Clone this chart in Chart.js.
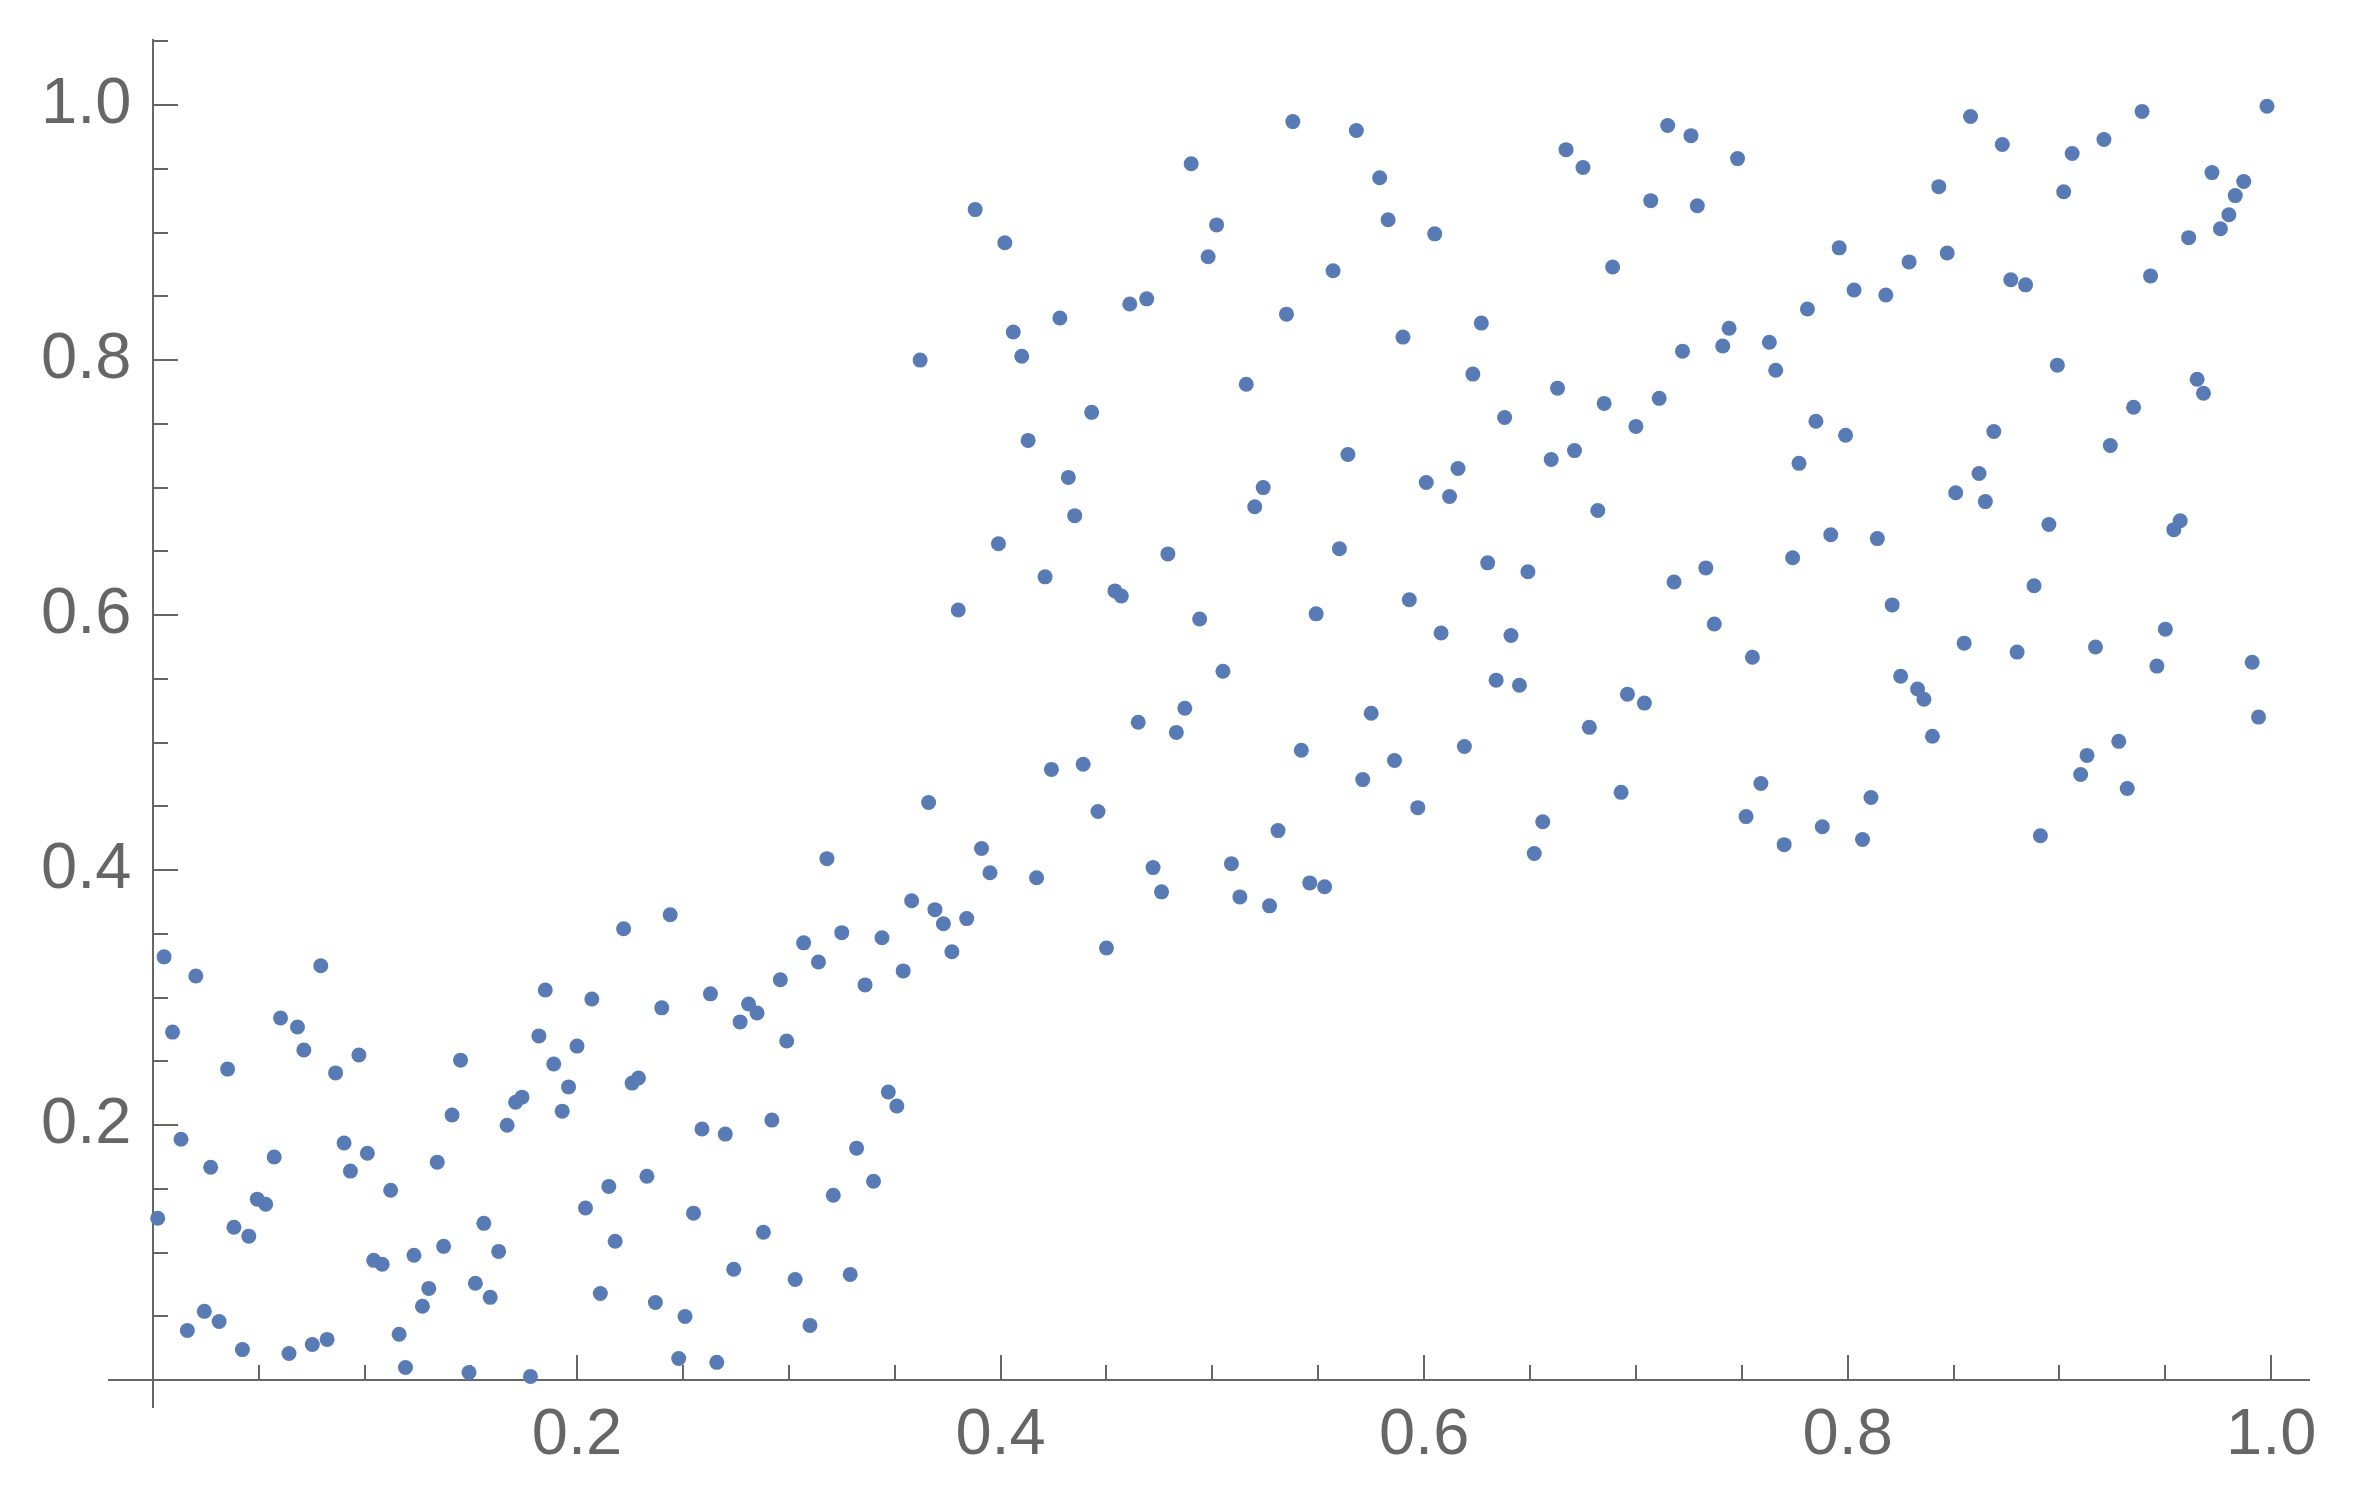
<!DOCTYPE html>
<html>
<head>
<meta charset="utf-8">
<script src="https://cdn.jsdelivr.net/npm/chart.js@4/dist/chart.umd.min.js"></script>
<style>
html,body{margin:0;padding:0;background:#ffffff;}
canvas{display:block;}
</style>
</head>
<body>
<canvas id="c" width="2360" height="1504"></canvas>
<script>
const xValues = [
0.005,0.020,0.009,0.035,0.013,0.027,0.002,0.016,0.024,0.031,
0.038,0.045,0.042,0.049,0.053,0.057,0.060,0.068,0.071,0.079,
0.064,0.075,0.082,0.086,0.097,0.090,0.093,0.101,0.112,0.104,
0.108,0.116,0.119,0.123,0.130,0.127,0.134,0.141,0.145,0.137,
0.149,0.152,0.156,0.159,0.163,0.167,0.171,0.174,0.178,0.182,
0.185,0.189,0.193,0.196,0.200,0.207,0.204,0.211,0.215,0.218,
0.366,0.318,0.391,0.395,0.417,0.244,0.222,0.358,0.369,0.373,
0.384,0.377,0.307,0.325,0.344,0.314,0.354,0.336,0.296,0.240,
0.263,0.281,0.285,0.277,0.299,0.226,0.229,0.347,0.351,0.259,
0.270,0.292,0.332,0.340,0.321,0.233,0.255,0.288,0.274,0.303,
0.329,0.237,0.251,0.310,0.248,0.266,
0.538,0.568,0.490,0.388,0.402,0.502,0.498,0.557,0.535,0.461,
0.469,0.428,0.406,0.410,0.362,0.516,0.443,0.413,0.432,0.564,
0.524,0.520,0.435,0.399,0.479,0.560,0.421,0.454,0.457,0.380,
0.494,0.549,
0.505,0.487,0.465,0.483,0.542,0.424,0.439,0.446,0.531,0.472,
0.476,0.509,0.513,0.527,0.546,0.553,0.450,
0.579,0.583,0.605,0.667,0.675,0.715,0.726,0.748,0.707,0.729,
0.689,0.781,0.744,0.741,0.722,0.763,0.766,0.590,0.627,0.623,
0.663,0.685,0.711,0.700,0.638,0.785,0.777,0.616,0.601,0.612,
0.660,0.671,0.682,0.774,0.630,0.649,0.733,0.718,0.593,0.737,
0.608,0.641,
0.755,0.634,0.645,0.696,0.704,0.575,0.678,0.619,0.586,0.571,
0.693,0.597,0.656,0.652,0.759,0.752,0.770,0.788,
0.858,0.873,0.843,0.906,0.921,0.939,0.998,0.902,0.972,0.987,
0.983,0.980,0.976,0.961,0.943,0.796,0.829,0.847,0.803,0.818,
0.877,0.884,0.899,0.965,0.968,0.935,0.924,0.799,0.869,0.862,
0.851,0.865,0.895,0.957,0.954,0.792,0.814,0.888,0.821,0.950,
0.855,0.880,0.917,0.946,0.991,0.994,0.825,0.833,0.836,0.840,
0.928,0.913,0.910,0.932,0.811,0.807,0.891
];
const yValues = [
0.332,0.317,0.273,0.244,0.189,0.167,0.127,0.039,0.054,0.046,
0.120,0.113,0.024,0.142,0.138,0.175,0.284,0.277,0.259,0.325,
0.021,0.028,0.032,0.241,0.255,0.186,0.164,0.178,0.149,0.094,
0.091,0.036,0.010,0.098,0.072,0.058,0.171,0.208,0.251,0.105,
0.006,0.076,0.123,0.065,0.101,0.200,0.218,0.222,0.003,0.270,
0.306,0.248,0.211,0.230,0.262,0.299,0.135,0.068,0.152,0.109,
0.453,0.409,0.417,0.398,0.394,0.365,0.354,0.376,0.369,0.358,
0.362,0.336,0.343,0.351,0.347,0.328,0.321,0.310,0.314,0.292,
0.303,0.295,0.288,0.281,0.266,0.233,0.237,0.226,0.215,0.197,
0.193,0.204,0.182,0.156,0.145,0.160,0.131,0.116,0.087,0.079,
0.083,0.061,0.050,0.043,0.017,0.014,
0.987,0.980,0.954,0.918,0.892,0.906,0.881,0.870,0.836,0.844,
0.848,0.833,0.822,0.803,0.800,0.781,0.759,0.737,0.708,0.726,
0.700,0.685,0.678,0.656,0.648,0.652,0.630,0.619,0.615,0.604,
0.597,0.601,
0.556,0.527,0.516,0.508,0.494,0.479,0.483,0.446,0.431,0.402,
0.383,0.405,0.379,0.372,0.390,0.387,0.339,
0.943,0.910,0.899,0.965,0.951,0.984,0.976,0.958,0.925,0.921,
0.873,0.840,0.825,0.811,0.807,0.814,0.792,0.818,0.829,0.789,
0.778,0.766,0.770,0.748,0.755,0.752,0.719,0.715,0.704,0.693,
0.722,0.729,0.682,0.645,0.641,0.634,0.637,0.626,0.612,0.593,
0.586,0.584,
0.567,0.549,0.545,0.538,0.531,0.523,0.512,0.497,0.486,0.471,
0.461,0.449,0.438,0.413,0.468,0.442,0.420,0.434,
0.991,0.969,0.936,0.962,0.973,0.995,0.999,0.932,0.947,0.940,
0.929,0.914,0.903,0.896,0.866,0.888,0.877,0.884,0.855,0.851,
0.863,0.859,0.796,0.785,0.774,0.763,0.733,0.741,0.744,0.711,
0.696,0.689,0.671,0.674,0.667,0.663,0.660,0.623,0.608,0.589,
0.578,0.571,0.575,0.560,0.563,0.520,0.552,0.542,0.534,0.505,
0.501,0.490,0.475,0.464,0.457,0.424,0.427
];

const xMajorTicks = [0.2, 0.4, 0.6, 0.8, 1.0];
const xTickLabels = ['0.2', '0.4', '0.6', '0.8', '1.0'];
const xMinorTicks = [0.05, 0.1, 0.15, 0.25, 0.3, 0.35, 0.45, 0.5, 0.55, 0.65, 0.7, 0.75, 0.85, 0.9, 0.95];
const yMajorTicks = [0.2, 0.4, 0.6, 0.8, 1.0];
const yTickLabels = ['0.2', '0.4', '0.6', '0.8', '1.0'];
const yMinorTicks = [0.05, 0.1, 0.15, 0.25, 0.3, 0.35, 0.45, 0.5, 0.55, 0.65, 0.7, 0.75, 0.85, 0.9, 0.95, 1.05];

const X_MIN = -0.021, X_MAX = 1.018;
const Y_MIN = -0.021, Y_MAX = 1.051;

const axisColor = '#666666';
const pointColor = '#587BB5';
const tickFont = { family: "'Liberation Sans', Arial, sans-serif", size: 65 };

function fixedTicks(values) {
  return function (scale) { scale.ticks = values.map(v => ({ value: v })); };
}

const points = xValues.map((x, i) => ({ x: x, y: yValues[i] }));

new Chart(document.getElementById('c').getContext('2d'), {
  type: 'scatter',
  data: {
    datasets: [{
      data: points,
      backgroundColor: pointColor,
      borderColor: pointColor,
      borderWidth: 0,
      pointRadius: 7.5,
      pointHoverRadius: 7.5
    }]
  },
  options: {
    responsive: false,
    animation: false,
    devicePixelRatio: 1,
    events: [],
    layout: { padding: { left: 109, right: 33, top: 40, bottom: 97 } },
    plugins: { legend: { display: false }, tooltip: { enabled: false } },
    scales: {
      x: {
        type: 'linear', min: X_MIN, max: X_MAX,
        position: { y: 0 },
        afterBuildTicks: fixedTicks(xMajorTicks),
        grid: { drawOnChartArea: false, drawTicks: true, tickLength: -26, color: axisColor, lineWidth: 2 },
        border: { display: true, color: axisColor, width: 2 },
        ticks: {
          autoSkip: false, maxRotation: 0, padding: 43, color: axisColor, font: tickFont,
          callback: (v, i) => xTickLabels[i]
        }
      },
      xMinor: {
        type: 'linear', axis: 'x', min: X_MIN, max: X_MAX,
        position: { y: 0 },
        afterBuildTicks: fixedTicks(xMinorTicks),
        grid: { drawOnChartArea: false, drawTicks: true, tickLength: -15, color: axisColor, lineWidth: 2 },
        border: { display: false },
        ticks: { display: false, autoSkip: false }
      },
      y: {
        type: 'linear', min: Y_MIN, max: Y_MAX,
        position: { x: 0 },
        afterBuildTicks: fixedTicks(yMajorTicks),
        grid: { drawOnChartArea: false, drawTicks: true, tickLength: -26, color: axisColor, lineWidth: 2 },
        border: { display: true, color: axisColor, width: 2 },
        ticks: { display: false, autoSkip: false }
      },
      yMinor: {
        type: 'linear', axis: 'y', min: Y_MIN, max: Y_MAX,
        position: { x: 0 },
        afterBuildTicks: fixedTicks(yMinorTicks),
        grid: { drawOnChartArea: false, drawTicks: true, tickLength: -15, color: axisColor, lineWidth: 2 },
        border: { display: false },
        ticks: { display: false, autoSkip: false }
      },
      yLabels: {
        type: 'linear', axis: 'y', min: Y_MIN, max: Y_MAX,
        position: 'left',
        afterBuildTicks: fixedTicks(yMajorTicks),
        afterFit: function (scale) { scale.width = 0; },
        grid: { display: false, drawTicks: false },
        border: { display: false },
        ticks: {
          autoSkip: false, mirror: true, padding: -68, color: axisColor, font: tickFont,
          callback: (v, i) => yTickLabels[i]
        }
      }
    }
  }
});
</script>
</body>
</html>
